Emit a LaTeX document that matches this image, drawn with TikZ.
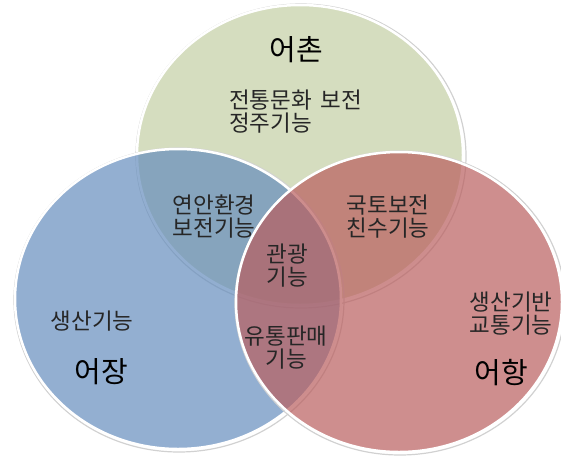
\documentclass[tikz,border=0pt]{standalone}
\usepackage{fontspec}
\newfontfamily\kr{Noto Sans CJK KR}
\definecolor{chongreen}{RGB}{213,221,191}
\definecolor{jangblue}{RGB}{101,141,189}
\definecolor{hangred}{RGB}{185,94,94}
\begin{document}
\begin{tikzpicture}[x=1pt, y=-1pt,
    set/.style={draw=white, line width=2.5pt},
    shade ring/.style={draw=black!18, line width=1.2pt},
    small/.style={font=\kr\fontsize{22.5}{23}\selectfont, text=black!85, align=center, inner sep=0pt},
    big/.style={font=\kr\fontsize{29}{32}\selectfont, text=black, inner sep=0pt}]
    \useasboundingbox (0,0) rectangle (561,455);

    % the three sets
    \draw[shade ring] (301,156) ellipse [x radius=165, y radius=152];
    \draw[set, fill=chongreen] (300,155) ellipse [x radius=163, y radius=150];
    \draw[shade ring] (179,300) ellipse [x radius=165, y radius=152];
    \draw[set, fill=jangblue, fill opacity=0.7] (178,299) ellipse [x radius=163, y radius=150];
    \draw[shade ring] (400,303) ellipse [x radius=165, y radius=152];
    \draw[set, fill=hangred, fill opacity=0.7] (399,302) ellipse [x radius=163, y radius=150];

    % labels
    \node[big] (chon) at (296,50) {어촌};
    \node[small, align=left, anchor=west] (chonf) at (229,112) {전통문화\hspace{0.4em}보전\\정주기능};
    \node[big] (jang) at (101,372) {어장};
    \node[small] (jangf) at (92,321) {생산기능};
    \node[big] (hang) at (501,373) {어항};
    \node[small] (hangf) at (511,314) {생산기반\\교통기능};
    \node[small] (chonjang) at (214,217) {연안환경\\보전기능};
    \node[small] (chonhang) at (388,217) {국토보전\\친수기능};
    \node[small] (janghang) at (286,348) {유통판매\\기능};
    \node[small] (all) at (287,266) {관광\\기능};
\end{tikzpicture}
\end{document}
